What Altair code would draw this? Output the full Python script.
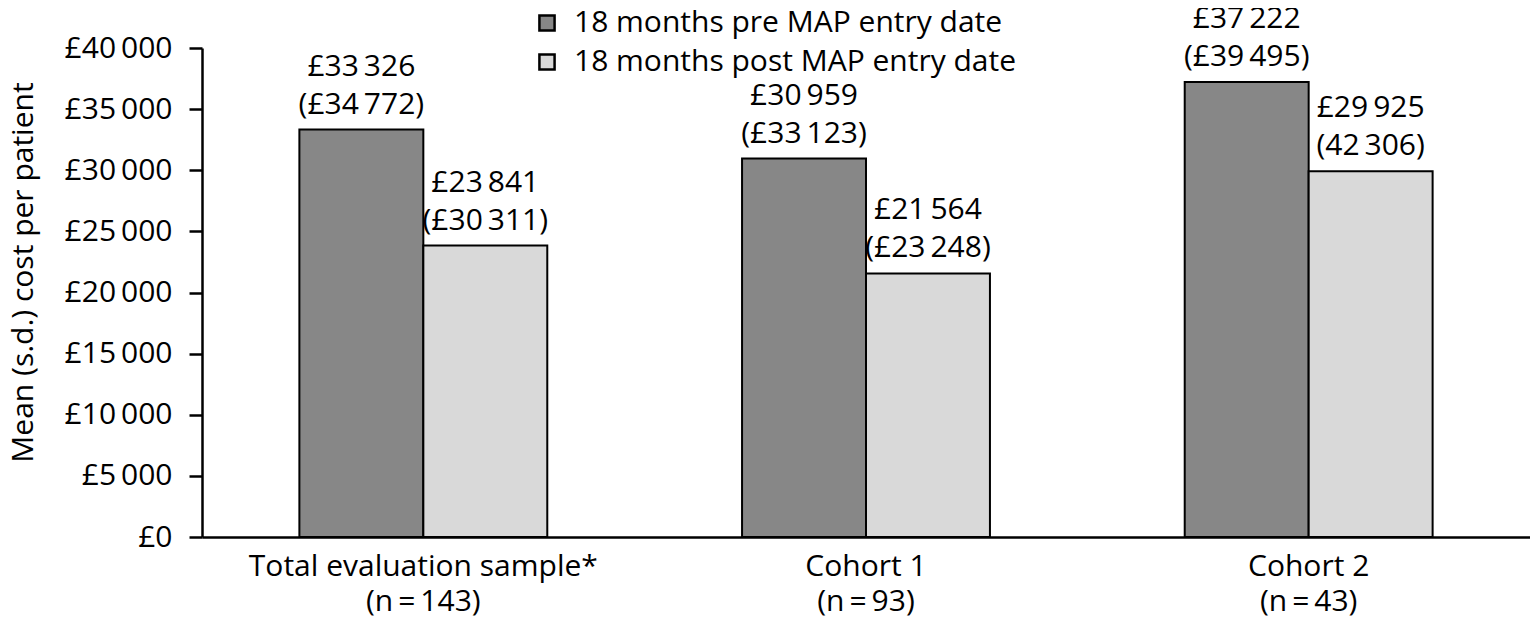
import altair as alt
import pandas as pd

TS = "\u2009"  # thin space used as thousands separator

groups = [
    f"Total evaluation sample*\n(n{TS}={TS}143)",
    f"Cohort 1\n(n{TS}={TS}93)",
    f"Cohort 2\n(n{TS}={TS}43)",
]
series = ["18 months pre MAP entry date", "18 months post MAP entry date"]
pre_values = [33326, 30959, 37222]
post_values = [23841, 21564, 29925]
pre_labels = [f"£33{TS}326\n(£34{TS}772)", f"£30{TS}959\n(£33{TS}123)", f"£37{TS}222\n(£39{TS}495)"]
post_labels = [f"£23{TS}841\n(£30{TS}311)", f"£21{TS}564\n(£23{TS}248)", f"£29{TS}925\n(42{TS}306)"]
colors = ["#878787", "#d9d9d9"]
y_ticks = [0, 5000, 10000, 15000, 20000, 25000, 30000, 35000, 40000]

rows = []
for g, v, l in zip(groups, pre_values, pre_labels):
    rows.append({"group": g, "series": series[0], "value": v, "label": l})
for g, v, l in zip(groups, post_values, post_labels):
    rows.append({"group": g, "series": series[1], "value": v, "label": l})
df = pd.DataFrame(rows)

FONT = "Open Sans"
FS = 30

x_enc = alt.X(
    "group:N",
    sort=groups,
    scale=alt.Scale(paddingInner=0.44, paddingOuter=0.22),
    axis=alt.Axis(
        title=None,
        labelAngle=0,
        ticks=False,
        domainColor="black",
        domainWidth=2.5,
        labelFontSize=FS,
        labelColor="black",
        labelPadding=14,
        labelLineHeight=35,
        labelLimit=600,
        labelExpr="split(datum.label, '\\n')",
        labelBaseline="top",
    ),
)
xoff = alt.XOffset("series:N", sort=series)
y_enc = alt.Y(
    "value:Q",
    scale=alt.Scale(domain=[0, 40000], nice=False),
    axis=alt.Axis(
        title="Mean (s.d.) cost per patient",
        values=y_ticks,
        grid=False,
        domainColor="black",
        domainWidth=2.5,
        tickColor="black",
        tickWidth=2.5,
        tickSize=13,
        labelFontSize=FS,
        labelColor="black",
        labelPadding=17,
        labelExpr="'£' + replace(format(datum.value, ',d'), ',', '\u2009')",
        titleFontSize=FS,
        titleFontWeight="normal",
        titleColor="black",
        titlePadding=26,
        titleY=224,
    ),
)

bars = alt.Chart(df).mark_bar(stroke="black", strokeWidth=2).encode(
    x=x_enc,
    xOffset=xoff,
    y=y_enc,
    color=alt.Color(
        "series:N",
        sort=series,
        scale=alt.Scale(domain=series, range=colors),
        legend=alt.Legend(
            title=None,
            orient="none",
            legendX=330,
            legendY=-40,
            symbolType="square",
            symbolSize=230,
            symbolStrokeColor="black",
            symbolStrokeWidth=2.5,
            symbolOpacity=1,
            labelFontSize=FS,
            labelColor="black",
            labelOffset=12,
            labelLimit=700,
            rowPadding=9,
            padding=0,
        ),
    ),
)

texts = alt.Chart(df).mark_text(
    baseline="bottom", dy=-48, fontSize=FS, lineBreak="\n", lineHeight=38, color="black"
).encode(
    x=alt.X("group:N", sort=groups),
    xOffset=xoff,
    y=alt.Y("value:Q"),
    text="label:N",
)

chart = (
    alt.layer(bars, texts)
    .properties(
        width=1328,
        height=489,
        autosize=alt.AutoSizeParams(type="none"),
        padding={"left": 194, "top": 40, "right": 0, "bottom": 81},
    )
    .configure(font=FONT)
    .configure_view(stroke=None)
)

chart.save("out.html", embed_options={"renderer": "svg", "actions": False})
